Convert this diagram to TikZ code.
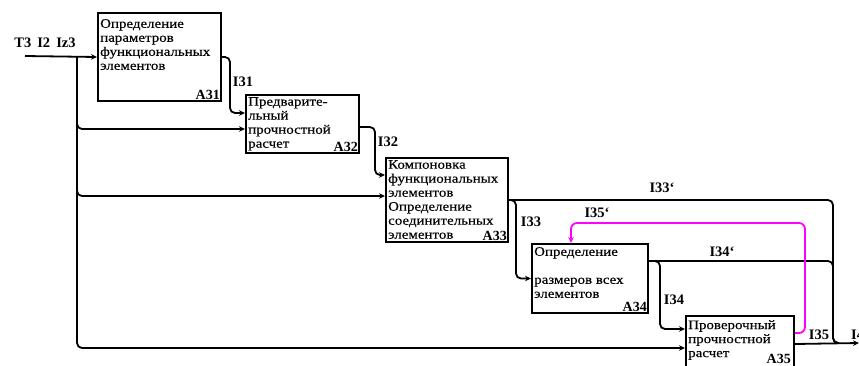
\documentclass[tikz,border=0pt]{standalone}
\usepackage{fontspec}
\setmainfont{Liberation Serif}
\newfontfamily\blkfont[FakeStretch=1.15,FakeBold=0.25]{Liberation Serif}
\usetikzlibrary{positioning,calc,arrows.meta}
\definecolor{fbmag}{RGB}{255,0,255}

\begin{document}
\begin{tikzpicture}[x=1pt,y=-1pt,
    blk/.style={draw,line width=2pt,anchor=north west,inner sep=0pt},
    blktext/.style={anchor=north west,align=left,inner sep=0pt,
      font=\blkfont\fontsize{13}{14}\selectfont},
    blkid/.style={anchor=south east,inner sep=2pt,
      font=\bfseries\fontsize{14}{14}\selectfont},
    lbl/.style={font=\bfseries\fontsize{14.5}{14}\selectfont,inner sep=1pt},
    arr/.style={line width=1.8pt,rounded corners=5pt,
      -{Stealth[length=6pt,width=5.5pt]}},
    ln/.style={line width=1.8pt,rounded corners=5pt},
    fb/.style={line width=1.8pt,rounded corners=6pt,draw=fbmag,
      -{Stealth[length=6pt,width=5.5pt]}}]

  \useasboundingbox (0,0) rectangle (859,365);

  % blocks
  \node[blk,minimum width=123pt,minimum height=88pt] (a31) at (97,12)  {};
  \node[blk,minimum width=113pt,minimum height=58pt] (a32) at (245,94) {};
  \node[blk,minimum width=122pt,minimum height=84pt] (a33) at (385,157) {};
  \node[blk,minimum width=116pt,minimum height=69pt] (a34) at (531,243) {};
  \node[blk,minimum width=108pt,minimum height=56pt] (a35) at (685,315) {};

  \node[blktext] (t31) at ($(a31.north west)+(3,7)$)
    {Определение\\параметров\\функциональных\\элементов};
  \node[blktext] (t32) at ($(a32.north west)+(3,3)$)
    {Предварите-\\льный\\прочностной\\расчет};
  \node[blktext] (t33) at ($(a33.north west)+(3,3)$)
    {Компоновка\\функциональных\\элементов\\Определение\\соединительных\\элементов};
  \node[blktext] (t34) at ($(a34.north west)+(3,4)$)
    {Определение\\[14pt]размеров всех\\элементов};
  \node[blktext] (t35) at ($(a35.north west)+(3,5)$)
    {Проверочный\\прочностной\\расчет};

  \node[blkid] (n31) at (a31.south east) {A31};
  \node[blkid] (n32) at (a32.south east) {A32};
  \node[blkid] (n33) at (a33.south east) {A33};
  \node[blkid] (n34) at (a34.south east) {A34};
  \node[blkid,anchor=north east] (n35) at ($(a35.north east)+(-2,37)$) {A35};

  % free ends and junctions
  \coordinate (in) at (25,56);
  \coordinate (j1) at (77,56);
  \coordinate (m)  at (833,343);
  \coordinate (out) at (859,343);

  % inputs
  \draw[arr] (in) -- (a31.west);
  \draw[arr] (j1) |- ($(a32.north west)+(0,35)$);
  \draw[arr] (j1) |- ($(a33.north west)+(0,39)$);
  \draw[arr] (j1) |- ($(a35.north west)+(0,33)$);

  % between blocks
  \draw[arr] (a31.east) -- ++(8,0) |- ($(a32.north west)+(0,19)$);
  \draw[arr] ($(a32.north east)+(0,33)$) -- ++(15,0)
    |- ($(a33.north west)+(0,18)$);
  \draw[arr] (a33.east) -- ++(7,0) |- (a34.west);
  \draw[arr] ($(a34.north east)+(0,18)$) -- ++(11,0)
    |- ($(a35.north west)+(0,14)$);

  % feedback to the output
  \draw[ln] (a33.east) -| (m) -- ++(6,0);
  \draw[ln] ($(a34.north east)+(0,18)$) -| (m) -- ++(6,0);
  \draw[arr] (a35.east) -- (out);

  % feedback
  \draw[fb] ($(a35.north east)+(0,18)$) -| (805,223)
    -| ($(a34.north west)+(40,0)$);

  % labels
  \node[lbl] (lin)  at (45,43)  {T3\, I2\, Iz3};
  \node[lbl] (l31)  at (243,82) {I31};
  \node[lbl] (l32)  at (388,142) {I32};
  \node[lbl] (l33)  at (531,222) {I33};
  \node[lbl] (l33b) at (662,188) {I33`};
  \node[lbl] (l35b) at (597,213) {I35`};
  \node[lbl] (l34b) at (722,252) {I34`};
  \node[lbl] (l34)  at (674,300) {I34};
  \node[lbl] (l35)  at (819,335) {I35};
  \node[lbl,anchor=west] (l4) at (850,335) {I4};
\end{tikzpicture}
\end{document}
